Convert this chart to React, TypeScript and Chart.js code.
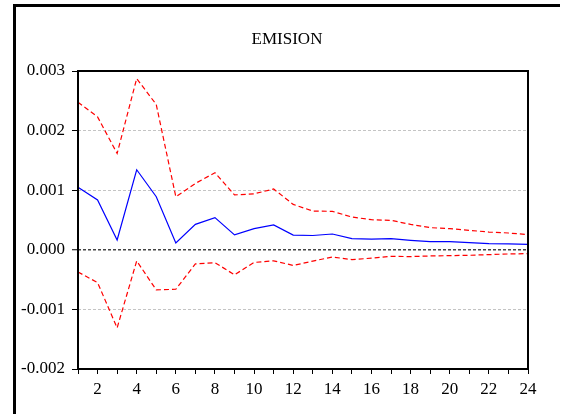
import React, { useEffect, useRef } from "react";
import { Chart, registerables } from "chart.js";

Chart.register(...registerables);

const chartTitle = "EMISION";
const periods = [1, 2, 3, 4, 5, 6, 7, 8, 9, 10, 11, 12, 13, 14, 15, 16, 17, 18, 19, 20, 21, 22, 23, 24];
const response = [
  0.00105, 0.000835, 0.000165, 0.001343, 0.00089, 0.000115, 0.000427, 0.00054,
  0.000251, 0.000355, 0.000418, 0.000246, 0.00024, 0.000265, 0.000187, 0.00018,
  0.000187, 0.000159, 0.000137, 0.000137, 0.00012, 0.000103, 0.0001, 0.000092,
];
const upperBand = [
  0.002476, 0.00223, 0.001616, 0.002873, 0.002437, 0.00089, 0.001114, 0.001293,
  0.00092, 0.00094, 0.00102, 0.000762, 0.00065, 0.000645, 0.00055, 0.000505,
  0.000494, 0.000427, 0.000372, 0.000355, 0.000327, 0.000298, 0.000282, 0.000254,
];
const lowerBand = [
  -0.000372, -0.00055, -0.00131, -0.000187, -0.000673, -0.000662, -0.000237, -0.000215,
  -0.00042, -0.000212, -0.000185, -0.000262, -0.00019, -0.00012, -0.000165, -0.00014,
  -0.000109, -0.000114, -0.000103, -0.000098, -0.000092, -0.000081, -0.00007, -0.000064,
];
const yTicks = [-0.002, -0.001, 0, 0.001, 0.002, 0.003];

const FONT = '"Liberation Serif", "Times New Roman", serif';

export default function App() {
  const ref = useRef<HTMLCanvasElement | null>(null);

  useEffect(() => {
    if (!ref.current) return;
    const framePlugin = {
      id: "frame",
      beforeDraw(chart: any) {
        const ctx = chart.ctx;
        ctx.save();
        ctx.fillStyle = "#ffffff";
        ctx.fillRect(0, 0, chart.width, chart.height);
        ctx.strokeStyle = "#000000";
        ctx.lineWidth = 3;
        ctx.beginPath();
        ctx.moveTo(14.5, 420);
        ctx.lineTo(14.5, 5.5);
        ctx.lineTo(560, 5.5);
        ctx.stroke();
        ctx.fillStyle = "#000000";
        ctx.font = `17px ${FONT}`;
        ctx.textAlign = "center";
        ctx.textBaseline = "middle";
        ctx.fillText(chartTitle, 287, 40);
        ctx.restore();
      },
      afterDraw(chart: any) {
        const a = chart.chartArea;
        const ctx = chart.ctx;
        ctx.save();
        ctx.strokeStyle = "#000000";
        ctx.lineWidth = 2;
        ctx.strokeRect(a.left, a.top, a.right - a.left, a.bottom - a.top);
        ctx.restore();
      },
    };

    const chart = new Chart(ref.current, {
      type: "line",
      data: {
        labels: periods,
        datasets: [
          {
            data: upperBand,
            borderColor: "#ff0000",
            borderWidth: 1.2,
            borderDash: [5, 3],
            pointRadius: 0,
            fill: false,
            tension: 0,
          },
          {
            data: lowerBand,
            borderColor: "#ff0000",
            borderWidth: 1.2,
            borderDash: [5, 3],
            pointRadius: 0,
            fill: false,
            tension: 0,
          },
          {
            data: response,
            borderColor: "#0000ff",
            borderWidth: 1.2,
            pointRadius: 0,
            fill: false,
            tension: 0,
          },
        ],
      },
      options: {
        responsive: false,
        animation: false,
        devicePixelRatio: 1,
        layout: { padding: { top: 71, right: 34, left: 0, bottom: 0 } },
        plugins: {
          legend: { display: false },
          title: { display: false },
          tooltip: { enabled: false },
        },
        scales: {
          x: {
            type: "category",
            offset: false,
            afterFit(scale: any) {
              scale.height = 45;
            },
            grid: {
              display: true,
              drawOnChartArea: false,
              drawTicks: true,
              tickLength: 5,
              tickColor: "#000000",
              tickWidth: 1,
            },
            border: { display: false },
            ticks: {
              autoSkip: false,
              maxRotation: 0,
              padding: 5,
              color: "#000000",
              font: { family: FONT, size: 17 },
              callback: (_v: any, i: number) => (periods[i] % 2 === 0 ? String(periods[i]) : ""),
            },
          },
          y: {
            type: "linear",
            min: yTicks[0],
            max: yTicks[yTicks.length - 1],
            afterFit(scale: any) {
              scale.width = 78;
            },
            afterBuildTicks(scale: any) {
              scale.ticks = yTicks.map((v) => ({ value: v }));
            },
            grid: {
              display: true,
              drawOnChartArea: true,
              drawTicks: true,
              tickLength: 6,
              tickColor: "#000000",
              tickWidth: 1,
              lineWidth: (ctx: any) => (ctx.tick && ctx.tick.value === 0 ? 1.5 : 1),
              color: (ctx: any) => {
                const v = ctx.tick ? ctx.tick.value : null;
                if (v === 0) return "#444444";
                if (v === yTicks[0] || v === yTicks[yTicks.length - 1]) return "rgba(0,0,0,0)";
                return "#c4c4c4";
              },
            },
            border: { display: false, dash: [3, 2] },
            ticks: {
              padding: 7,
              color: "#000000",
              font: { family: FONT, size: 17 },
              callback: (v: any) => Number(v).toFixed(3),
            },
          },
        },
      },
      plugins: [framePlugin],
    } as any);
    return () => chart.destroy();
  }, []);

  return (
    <div style={{ position: "absolute", left: 0, top: 0, width: 562, height: 414, overflow: "hidden", background: "#fff" }}>
      <canvas ref={ref} width={562} height={414} style={{ width: 562, height: 414, display: "block" }} />
    </div>
  );
}
